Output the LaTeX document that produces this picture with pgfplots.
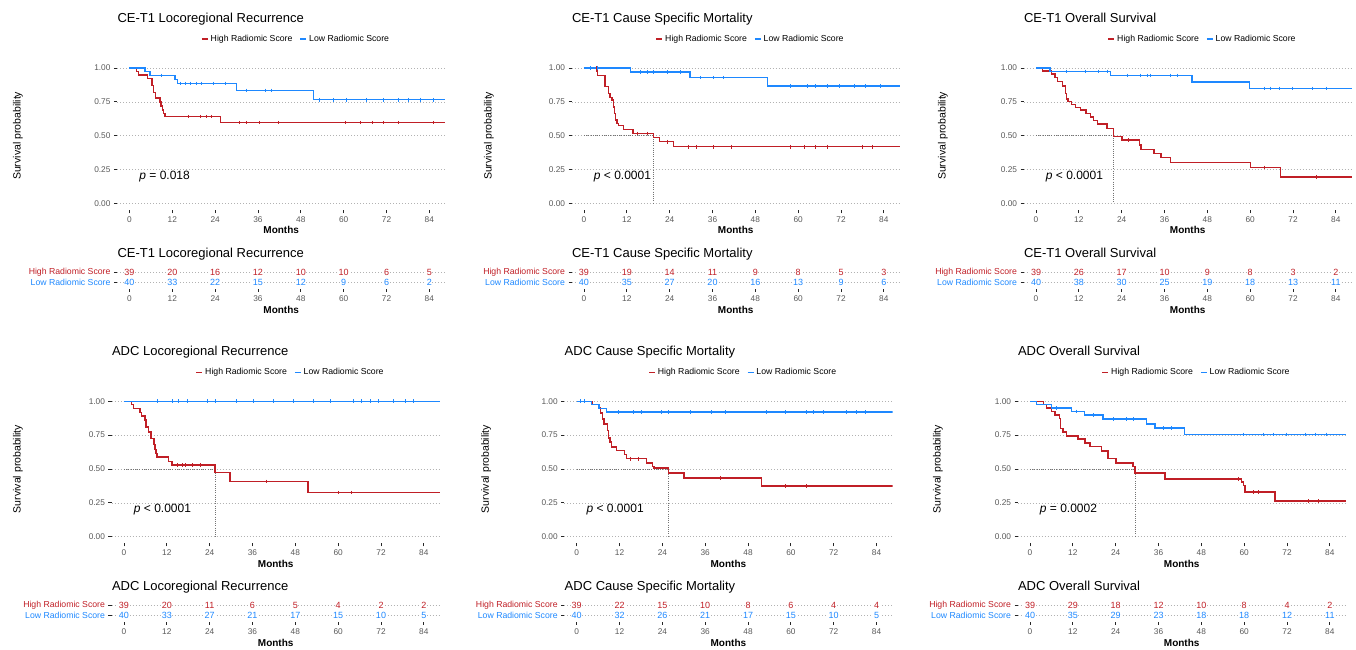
\documentclass[border=0pt]{standalone}
\usepackage{fontspec}
\setmainfont{Liberation Sans}
\usepackage{pgfplots}
\pgfplotsset{compat=1.18}
\definecolor{highc}{RGB}{192,31,38}
\definecolor{lowc}{RGB}{30,136,255}
\newcommand{\fs}[1]{\fontsize{#1bp}{#1bp}\selectfont}
\pgfplotsset{
 base/.style={scale only axis, width=328.4bp, xmin=-3.5, xmax=88.5,
  axis lines*=left, axis line style={draw=none},
  xtick={0,12,...,84}, tick align=outside, major tick length=3bp,
  tick style={black!85, line width=0.9bp},
  ymajorgrids, grid style={black!30, line width=0.6bp, dash pattern=on 0.7bp off 2.3bp},
  ticklabel style={font=\fs{8.3}, text=black!65},
  /pgf/number format/assume math mode=true,
  xlabel={Months}, xlabel style={font=\bfseries\fs{10}, at={(axis description cs:0.5,0)}, anchor=center, yshift=-20bp},
  title style={font=\fs{13}, at={(axis description cs:0,1)}, anchor=base west, xshift=-3bp}},
 km/.style={base, height=149bp, ymin=-0.05, ymax=1.05,
  ytick={0,0.25,0.5,0.75,1}, yticklabels={0.00,0.25,0.50,0.75,1.00},
  ylabel={Survival probability}, ylabel style={font=\fs{10.5}, anchor=center},
  title style={yshift=33.3bp},
  legend columns=2,
  legend style={at={(axis description cs:0.545,1.148)}, anchor=center, draw=none, fill=none, font=\fs{8.7},
   /tikz/every even column/.append style={column sep=5bp}},
  legend image code/.code={\draw[line width=1.8bp] (0bp,0bp) -- (6bp,0bp);}},
 risk/.style={base, height=23.1bp, ymin=0.4, ymax=2.6, ytick={1,2},
  yticklabels={\textcolor{lowc}{Low Radiomic Score},\textcolor{highc}{High Radiomic Score}},
  yticklabel style={font=\fs{8.7}},
  title style={yshift=1.8bp}, xlabel style={yshift=-1bp}},
 hi/.style={const plot, highc, line width=1.4bp},
 lo/.style={const plot, lowc, line width=1.4bp},
 chi/.style={only marks, mark=|, mark size=1.8bp, highc, mark options={line width=0.6bp}, forget plot},
 clo/.style={only marks, mark=|, mark size=1.8bp, lowc, mark options={line width=0.6bp}, forget plot},
 med/.style={black!55, line width=0.6bp, dash pattern=on 0.7bp off 1.5bp, forget plot},
 nhi/.style={only marks, mark=*, mark size=0.01pt, mark options={draw=none,fill=none}, nodes near coords, point meta=explicit symbolic,
   every node near coord/.append style={font=\fs{9}, text=highc, anchor=center, fill=white, inner sep=0.6bp}},
 nlo/.style={only marks, mark=*, mark size=0.01pt, mark options={draw=none,fill=none}, nodes near coords, point meta=explicit symbolic,
   every node near coord/.append style={font=\fs{9}, text=lowc, anchor=center, fill=white, inner sep=0.6bp}},
}
\begin{document}
\begin{tikzpicture}
\path[use as bounding box] (0,0) rectangle (1356bp,650bp);
% ---------- Panel 1: CE-T1 LR
\begin{axis}[km, at={(117bp,439.7bp)}, anchor=south west, title={CE-T1 Locoregional Recurrence},
  ylabel style={at={(axis description cs:-0.3015,0.5)}}]
\addplot[hi] coordinates {(0,1) (2.0,0.974) (2.5,0.949) (5.0,0.923) (6.3,0.872) (6.8,0.82) (7.3,0.78) (8.5,0.75) (8.8,0.72) (9.2,0.69) (9.6,0.665) (10.0,0.641) (25.5,0.597) (88.5,0.597)};
\addlegendentry{High Radiomic Score}
\addplot[lo] coordinates {(0,1) (4.3,0.975) (5.7,0.945) (12.7,0.915) (13.4,0.887) (30.0,0.835) (51.5,0.766) (88.5,0.766)};
\addlegendentry{Low Radiomic Score}
\addplot[chi] coordinates {(16.4,0.641) (19.7,0.641) (21.6,0.641) (23.0,0.641) (30.8,0.597) (32.6,0.597) (36.4,0.597) (41.7,0.597) (60.4,0.597) (64.6,0.597) (67.9,0.597) (71.1,0.597) (75.3,0.597) (85.1,0.597)};
\addplot[clo] coordinates {(9.0,0.945) (14.1,0.887) (15.5,0.887) (16.9,0.887) (18.8,0.887) (20.2,0.887) (23.5,0.887) (26.7,0.887) (32.8,0.835) (38,0.835) (39.8,0.835) (53.3,0.766) (57.1,0.766) (60.8,0.766) (66.4,0.766) (71.1,0.766) (75.3,0.766) (78.1,0.766) (81.4,0.766) (85.1,0.766)};
\node[anchor=west, font=\fs{12}] at (axis cs:1.8,0.2) {\textit{p} = 0.018};
\end{axis}
\begin{axis}[risk, at={(117bp,361.2bp)}, anchor=south west, title={CE-T1 Locoregional Recurrence}]
\addplot[nhi] coordinates {(0,2)[39] (12,2)[20] (24,2)[16] (36,2)[12] (48,2)[10] (60,2)[10] (72,2)[6] (84,2)[5]};
\addplot[nlo] coordinates {(0,1)[40] (12,1)[33] (24,1)[22] (36,1)[15] (48,1)[12] (60,1)[9] (72,1)[6] (84,1)[2]};
\node[rotate=90, font=\fs{10.5}] at (axis description cs:-0.3045,0.5) {Strata};
\end{axis}
% ---------- Panel 2: CE-T1 CSM
\begin{axis}[km, at={(571.5bp,439.7bp)}, anchor=south west, title={CE-T1 Cause Specific Mortality},
  ylabel style={at={(axis description cs:-0.2512,0.5)}}]
\addplot[med] coordinates {(0,0.5) (19.5,0.5) (19.5,0)};
\addplot[hi] coordinates {(0,1) (3.6,0.975) (3.8,0.946) (5.9,0.862) (6.8,0.813) (7.3,0.783) (7.8,0.764) (8.2,0.714) (8.5,0.665) (8.9,0.616) (9.2,0.591) (9.6,0.576) (11.0,0.547) (13.7,0.517) (19.5,0.488) (21.1,0.456) (25.1,0.419) (88.5,0.419)};
\addlegendentry{High Radiomic Score}
\addplot[lo] coordinates {(0,1) (13.1,0.970) (29.7,0.929) (51.4,0.867) (88.5,0.867)};
\addlegendentry{Low Radiomic Score}
\addplot[chi] coordinates {(3.4,1) (14.8,0.517) (17.6,0.517) (23.2,0.456) (29.3,0.419) (31.6,0.419) (36.3,0.419) (41.4,0.419) (57.8,0.419) (61.6,0.419) (64.8,0.419) (68.1,0.419) (77.9,0.419) (80.7,0.419)};
\addplot[clo] coordinates {(1.7,1) (3.6,1) (15.7,0.97) (17.6,0.97) (19.5,0.97) (23.2,0.97) (26.9,0.97) (32.6,0.929) (36.3,0.929) (39.1,0.929) (57.8,0.867) (62.5,0.867) (64.8,0.867) (68.1,0.867) (71.4,0.867) (75.6,0.867) (78.9,0.867) (83.1,0.867)};
\node[anchor=west, font=\fs{12}] at (axis cs:1.8,0.2) {\textit{p} < 0.0001};
\end{axis}
\begin{axis}[risk, at={(571.5bp,361.2bp)}, anchor=south west, title={CE-T1 Cause Specific Mortality}]
\addplot[nhi] coordinates {(0,2)[39] (12,2)[19] (24,2)[14] (36,2)[11] (48,2)[9] (60,2)[8] (72,2)[5] (84,2)[3]};
\addplot[nlo] coordinates {(0,1)[40] (12,1)[35] (24,1)[27] (36,1)[20] (48,1)[16] (60,1)[13] (72,1)[9] (84,1)[6]};
\end{axis}
% ---------- Panel 3: CE-T1 OS
\begin{axis}[km, at={(1023.5bp,439.7bp)}, anchor=south west, title={CE-T1 Overall Survival},
  ylabel style={at={(axis description cs:-0.2451,0.5)}}]
\addplot[med] coordinates {(0,0.5) (21.7,0.5) (21.7,0)};
\addplot[hi] coordinates {(0,1) (1.9,0.978) (4.4,0.956) (5.3,0.931) (6.0,0.899) (7.5,0.869) (8.2,0.813) (8.6,0.771) (9.0,0.751) (10.0,0.732) (11.0,0.709) (12.4,0.690) (14.0,0.665) (15.2,0.640) (16.1,0.611) (17.2,0.586) (19.9,0.554) (21.7,0.493) (24.1,0.468) (29.0,0.431) (29.4,0.399) (33.1,0.369) (35.0,0.340) (37.6,0.303) (60.1,0.266) (68.5,0.197) (88.5,0.197)};
\addlegendentry{High Radiomic Score}
\addplot[lo] coordinates {(0,1) (3.9,0.975) (20.8,0.946) (43.7,0.897) (59.8,0.850) (88.5,0.850)};
\addlegendentry{Low Radiomic Score}
\addplot[chi] coordinates {(25.9,0.468) (63.9,0.266) (78.4,0.197)};
\addplot[clo] coordinates {(8.6,0.975) (13.8,0.975) (17.5,0.975) (19.9,0.975) (25.5,0.946) (29.2,0.946) (31.1,0.946) (32,0.946) (37.6,0.946) (39.5,0.946) (63.9,0.85) (65.7,0.85) (68.1,0.85) (71.8,0.85) (77.4,0.85) (81.2,0.85)};
\node[anchor=west, font=\fs{12}] at (axis cs:1.8,0.2) {\textit{p} < 0.0001};
\end{axis}
\begin{axis}[risk, at={(1023.5bp,361.2bp)}, anchor=south west, title={CE-T1 Overall Survival}]
\addplot[nhi] coordinates {(0,2)[39] (12,2)[26] (24,2)[17] (36,2)[10] (48,2)[9] (60,2)[8] (72,2)[3] (84,2)[2]};
\addplot[nlo] coordinates {(0,1)[40] (12,1)[38] (24,1)[30] (36,1)[25] (48,1)[19] (60,1)[18] (72,1)[13] (84,1)[11]};
\end{axis}
% ---------- Panel 4: ADC LR
\begin{axis}[km, at={(111.5bp,106.5bp)}, anchor=south west, title={ADC Locoregional Recurrence},
  ylabel style={at={(axis description cs:-0.2847,0.5)}}]
\addplot[med] coordinates {(0,0.5) (25.5,0.5) (25.5,0)};
\addplot[hi] coordinates {(0,1) (2.1,0.975) (2.6,0.946) (4.5,0.919) (4.9,0.890) (5.9,0.863) (6.2,0.809) (6.9,0.772) (7.6,0.723) (8.4,0.681) (8.7,0.645) (9.0,0.613) (9.3,0.588) (12.4,0.556) (13.5,0.529) (25.5,0.475) (29.7,0.409) (51.6,0.326) (88.5,0.326)};
\addlegendentry{High Radiomic Score}
\addplot[lo] coordinates {(0,1) (88.5,1)};
\addlegendentry{Low Radiomic Score}
\addplot[chi] coordinates {(14.8,0.529) (16.2,0.529) (17.2,0.529) (19.0,0.529) (21.3,0.529) (40,0.409) (60,0.326) (63.8,0.326)};
\addplot[clo] coordinates {(9.2,1) (13.4,1) (15.2,1) (17.6,1) (23.2,1) (25.5,1) (31.6,1) (36.2,1) (41.8,1) (47.4,1) (53,1) (57.7,1) (64.2,1) (66.6,1) (68.9,1) (71.3,1) (75.5,1) (78.7,1) (81.1,1)};
\node[anchor=west, font=\fs{12}] at (axis cs:1.8,0.2) {\textit{p} < 0.0001};
\end{axis}
\begin{axis}[risk, at={(111.5bp,28.2bp)}, anchor=south west, title={ADC Locoregional Recurrence}]
\addplot[nhi] coordinates {(0,2)[39] (12,2)[20] (24,2)[11] (36,2)[6] (48,2)[5] (60,2)[4] (72,2)[2] (84,2)[2]};
\addplot[nlo] coordinates {(0,1)[40] (12,1)[33] (24,1)[27] (36,1)[21] (48,1)[17] (60,1)[15] (72,1)[10] (84,1)[5]};
\end{axis}
% ---------- Panel 5: ADC CSM
\begin{axis}[km, at={(564.2bp,106.5bp)}, anchor=south west, title={ADC Cause Specific Mortality},
  ylabel style={at={(axis description cs:-0.2375,0.5)}}]
\addplot[med] coordinates {(0,0.5) (25.7,0.5) (25.7,0)};
\addplot[hi] coordinates {(0,1) (4.5,0.975) (6.3,0.951) (6.7,0.914) (7.2,0.870) (7.7,0.833) (8.6,0.784) (8.9,0.730) (9.3,0.699) (9.8,0.662) (11.2,0.637) (13.4,0.608) (13.9,0.576) (19.6,0.544) (21.3,0.520) (21.7,0.507) (25.7,0.471) (30.1,0.434) (51.8,0.375) (88.5,0.375)};
\addlegendentry{High Radiomic Score}
\addplot[lo] coordinates {(0,1) (4.2,0.975) (6.3,0.946) (8.4,0.922) (88.5,0.922)};
\addlegendentry{Low Radiomic Score}
\addplot[chi] coordinates {(14.9,0.576) (17.3,0.576) (40.1,0.434) (58.4,0.375) (64.4,0.375)};
\addplot[clo] coordinates {(0.9,1) (2.1,1) (11.7,0.922) (15.9,0.922) (18.2,0.922) (23.8,0.922) (25.7,0.922) (31.7,0.922) (37.8,0.922) (41.5,0.922) (53.2,0.922) (58.4,0.922) (64.4,0.922) (66.3,0.922) (69.1,0.922) (75.6,0.922) (78.4,0.922) (80.8,0.922)};
\node[anchor=west, font=\fs{12}] at (axis cs:1.8,0.2) {\textit{p} < 0.0001};
\end{axis}
\begin{axis}[risk, at={(564.2bp,28.2bp)}, anchor=south west, title={ADC Cause Specific Mortality}]
\addplot[nhi] coordinates {(0,2)[39] (12,2)[22] (24,2)[15] (36,2)[10] (48,2)[8] (60,2)[6] (72,2)[4] (84,2)[4]};
\addplot[nlo] coordinates {(0,1)[40] (12,1)[32] (24,1)[26] (36,1)[21] (48,1)[17] (60,1)[15] (72,1)[10] (84,1)[5]};
\end{axis}
% ---------- Panel 6: ADC OS
\begin{axis}[km, at={(1017.5bp,106.5bp)}, anchor=south west, title={ADC Overall Survival},
  ylabel style={at={(axis description cs:-0.2421,0.5)}}]
\addplot[med] coordinates {(0,0.5) (29.4,0.5) (29.4,0)};
\addplot[hi] coordinates {(0,1) (3.7,0.975) (4.7,0.951) (6.1,0.924) (7.0,0.900) (8.2,0.875) (8.5,0.797) (9.2,0.772) (10.3,0.745) (13.5,0.721) (15.4,0.691) (16.8,0.667) (20.1,0.632) (21.9,0.576) (24.1,0.544) (28.8,0.520) (29.4,0.471) (37.8,0.426) (59.3,0.404) (59.8,0.380) (60.2,0.331) (68.6,0.265) (88.5,0.265)};
\addlegendentry{High Radiomic Score}
\addplot[lo] coordinates {(0,1) (1.9,0.975) (6.1,0.951) (11.7,0.925) (15.2,0.900) (20.5,0.870) (32.7,0.833) (35.0,0.804) (43.2,0.755) (88.5,0.755)};
\addlegendentry{Low Radiomic Score}
\addplot[chi] coordinates {(58.4,0.426) (62.6,0.331) (64,0.331) (78,0.265) (80.8,0.265)};
\addplot[clo] coordinates {(7.5,0.951) (13.1,0.925) (17.7,0.9) (23.3,0.87) (27.1,0.87) (28.9,0.87) (37.3,0.804) (39.7,0.804) (59.8,0.755) (65.4,0.755) (68.2,0.755) (71.9,0.755) (77,0.755) (79.8,0.755) (83.1,0.755)};
\node[anchor=west, font=\fs{12}] at (axis cs:1.8,0.2) {\textit{p} = 0.0002};
\end{axis}
\begin{axis}[risk, at={(1017.5bp,28.2bp)}, anchor=south west, title={ADC Overall Survival}]
\addplot[nhi] coordinates {(0,2)[39] (12,2)[29] (24,2)[18] (36,2)[12] (48,2)[10] (60,2)[8] (72,2)[4] (84,2)[2]};
\addplot[nlo] coordinates {(0,1)[40] (12,1)[35] (24,1)[29] (36,1)[23] (48,1)[18] (60,1)[18] (72,1)[12] (84,1)[11]};
\end{axis}
\end{tikzpicture}
\end{document}
